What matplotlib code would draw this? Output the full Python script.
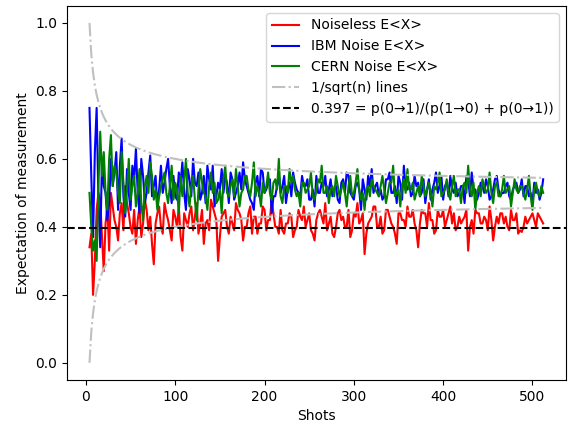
import numpy as np
import matplotlib
matplotlib.use("Agg")
import matplotlib.pyplot as plt

shots = list(range(4, 514, 2))

noiseless = [0.34, 0.38, 0.20, 0.30, 0.45, 0.50, 0.48, 0.37, 0.27, 0.41,
             0.46, 0.33, 0.50, 0.46, 0.42, 0.40, 0.36, 0.44, 0.47, 0.39,
             0.52, 0.47, 0.44, 0.40, 0.38, 0.45, 0.35, 0.42, 0.46, 0.37,
             0.41, 0.48, 0.45, 0.39, 0.43, 0.35, 0.29, 0.41, 0.44, 0.46,
             0.40, 0.38, 0.47, 0.44, 0.42, 0.39, 0.36, 0.45, 0.43, 0.40,
             0.46, 0.37, 0.33, 0.44, 0.42, 0.40, 0.44, 0.46, 0.39, 0.43,
             0.47, 0.38, 0.41, 0.45, 0.35, 0.41, 0.42, 0.39, 0.48, 0.46,
             0.44, 0.42, 0.30, 0.37, 0.43, 0.44, 0.45, 0.40, 0.38, 0.43,
             0.41, 0.39, 0.47, 0.45, 0.44, 0.42, 0.36, 0.40, 0.40, 0.44,
             0.46, 0.38, 0.43, 0.43, 0.38, 0.41, 0.41, 0.46, 0.45, 0.39,
             0.42, 0.42, 0.48, 0.44, 0.40, 0.40, 0.38, 0.45, 0.39, 0.38,
             0.41, 0.41, 0.44, 0.43, 0.37, 0.39, 0.40, 0.45, 0.43, 0.42,
             0.46, 0.40, 0.42, 0.44, 0.39, 0.38, 0.36, 0.42, 0.44, 0.45,
             0.43, 0.41, 0.47, 0.39, 0.41, 0.43, 0.38, 0.37, 0.40, 0.44,
             0.45, 0.42, 0.43, 0.40, 0.40, 0.45, 0.37, 0.39, 0.44, 0.43,
             0.47, 0.41, 0.42, 0.44, 0.32, 0.38, 0.41, 0.42, 0.43, 0.46,
             0.46, 0.40, 0.40, 0.43, 0.38, 0.39, 0.45, 0.45, 0.43, 0.41,
             0.40, 0.38, 0.35, 0.44, 0.44, 0.42, 0.42, 0.40, 0.46, 0.43,
             0.43, 0.45, 0.41, 0.39, 0.34, 0.41, 0.45, 0.44, 0.44, 0.40,
             0.47, 0.42, 0.42, 0.38, 0.39, 0.45, 0.43, 0.43, 0.45, 0.40,
             0.42, 0.44, 0.46, 0.41, 0.44, 0.39, 0.40, 0.43, 0.41, 0.42,
             0.43, 0.45, 0.33, 0.40, 0.42, 0.38, 0.45, 0.44, 0.44, 0.41,
             0.41, 0.43, 0.42, 0.39, 0.46, 0.42, 0.36, 0.40, 0.43, 0.41,
             0.44, 0.44, 0.41, 0.43, 0.40, 0.39, 0.45, 0.42, 0.42, 0.44,
             0.38, 0.39, 0.385, 0.40, 0.43, 0.41, 0.42, 0.43, 0.44, 0.42,
             0.40, 0.44, 0.43, 0.42, 0.41]

ibm = [0.75, 0.55, 0.37, 0.62, 0.75, 0.48, 0.34, 0.60, 0.52, 0.50,
       0.42, 0.47, 0.60, 0.52, 0.56, 0.62, 0.45, 0.58, 0.66, 0.49,
       0.43, 0.57, 0.50, 0.45, 0.58, 0.54, 0.63, 0.50, 0.44, 0.60,
       0.55, 0.47, 0.50, 0.56, 0.61, 0.49, 0.52, 0.55, 0.46, 0.51,
       0.58, 0.50, 0.53, 0.57, 0.60, 0.52, 0.47, 0.55, 0.49, 0.48,
       0.56, 0.53, 0.59, 0.50, 0.45, 0.57, 0.54, 0.49, 0.60, 0.53,
       0.52, 0.56, 0.48, 0.50, 0.55, 0.47, 0.58, 0.54, 0.51, 0.58,
       0.46, 0.49, 0.53, 0.51, 0.57, 0.50, 0.55, 0.53, 0.47, 0.56,
       0.54, 0.48, 0.50, 0.52, 0.56, 0.51, 0.59, 0.54, 0.52, 0.50,
       0.48, 0.47, 0.45, 0.53, 0.55, 0.49, 0.57, 0.56, 0.50, 0.51,
       0.53, 0.54, 0.44, 0.49, 0.49, 0.52, 0.55, 0.50, 0.52, 0.55,
       0.47, 0.51, 0.53, 0.49, 0.56, 0.53, 0.51, 0.50, 0.49, 0.55,
       0.52, 0.52, 0.54, 0.48, 0.48, 0.51, 0.46, 0.55, 0.50, 0.50,
       0.53, 0.52, 0.55, 0.49, 0.51, 0.54, 0.49, 0.51, 0.52, 0.48,
       0.47, 0.53, 0.54, 0.50, 0.56, 0.55, 0.50, 0.49, 0.48, 0.52,
       0.53, 0.51, 0.45, 0.54, 0.51, 0.48, 0.55, 0.52, 0.57, 0.50,
       0.52, 0.53, 0.49, 0.51, 0.48, 0.49, 0.54, 0.54, 0.56, 0.50,
       0.50, 0.52, 0.47, 0.55, 0.53, 0.48, 0.58, 0.51, 0.51, 0.53,
       0.49, 0.50, 0.55, 0.52, 0.53, 0.49, 0.50, 0.54, 0.47, 0.51,
       0.54, 0.48, 0.51, 0.53, 0.56, 0.50, 0.52, 0.55, 0.48, 0.52,
       0.53, 0.49, 0.55, 0.51, 0.50, 0.53, 0.49, 0.50, 0.52, 0.52,
       0.47, 0.55, 0.54, 0.49, 0.56, 0.51, 0.51, 0.48, 0.50, 0.53,
       0.52, 0.50, 0.54, 0.52, 0.48, 0.49, 0.51, 0.54, 0.55, 0.51,
       0.49, 0.50, 0.50, 0.52, 0.53, 0.49, 0.48, 0.51, 0.52, 0.53,
       0.50, 0.51, 0.54, 0.49, 0.52, 0.52, 0.49, 0.50, 0.47, 0.53,
       0.50, 0.51, 0.48, 0.50, 0.54]

cern = [0.50, 0.40, 0.33, 0.36, 0.30, 0.52, 0.68, 0.55, 0.62, 0.50,
        0.45, 0.60, 0.67, 0.52, 0.58, 0.56, 0.50, 0.47, 0.62, 0.53,
        0.44, 0.51, 0.60, 0.48, 0.52, 0.55, 0.46, 0.50, 0.57, 0.47,
        0.42, 0.52, 0.55, 0.50, 0.59, 0.55, 0.48, 0.51, 0.45, 0.49,
        0.52, 0.54, 0.56, 0.50, 0.47, 0.52, 0.58, 0.48, 0.53, 0.51,
        0.44, 0.55, 0.49, 0.53, 0.60, 0.50, 0.46, 0.52, 0.55, 0.48,
        0.42, 0.51, 0.57, 0.53, 0.50, 0.49, 0.45, 0.52, 0.56, 0.50,
        0.53, 0.47, 0.48, 0.51, 0.44, 0.54, 0.58, 0.50, 0.49, 0.52,
        0.54, 0.49, 0.57, 0.52, 0.46, 0.50, 0.51, 0.55, 0.55, 0.51,
        0.49, 0.53, 0.59, 0.49, 0.52, 0.50, 0.46, 0.53, 0.50, 0.52,
        0.56, 0.50, 0.48, 0.53, 0.54, 0.51, 0.60, 0.49, 0.47, 0.52,
        0.52, 0.50, 0.57, 0.53, 0.55, 0.51, 0.49, 0.50, 0.46, 0.53,
        0.53, 0.50, 0.51, 0.52, 0.56, 0.49, 0.48, 0.51, 0.54, 0.53,
        0.58, 0.50, 0.50, 0.52, 0.47, 0.51, 0.52, 0.49, 0.55, 0.52,
        0.49, 0.51, 0.53, 0.50, 0.46, 0.52, 0.55, 0.49, 0.50, 0.53,
        0.57, 0.51, 0.48, 0.50, 0.45, 0.51, 0.52, 0.49, 0.54, 0.52,
        0.51, 0.50, 0.49, 0.52, 0.55, 0.51, 0.47, 0.50, 0.53, 0.53,
        0.58, 0.49, 0.50, 0.51, 0.46, 0.52, 0.54, 0.50, 0.57, 0.51,
        0.51, 0.53, 0.48, 0.50, 0.52, 0.49, 0.55, 0.52, 0.49, 0.51,
        0.53, 0.50, 0.46, 0.52, 0.51, 0.53, 0.56, 0.49, 0.50, 0.51,
        0.54, 0.50, 0.48, 0.52, 0.55, 0.49, 0.51, 0.51, 0.47, 0.52,
        0.53, 0.50, 0.58, 0.51, 0.49, 0.53, 0.45, 0.50, 0.52, 0.49,
        0.54, 0.52, 0.50, 0.51, 0.56, 0.50, 0.47, 0.52, 0.53, 0.49,
        0.49, 0.51, 0.55, 0.50, 0.51, 0.52, 0.46, 0.50, 0.54, 0.51,
        0.50, 0.52, 0.52, 0.50, 0.48, 0.51, 0.55, 0.49, 0.45, 0.51,
        0.53, 0.50, 0.49, 0.52, 0.50]

ratio = 0.397

# bounds drawn as 0.5 +/- 1/sqrt(n)
n = np.array(shots)
upper = 0.5 + 1 / np.sqrt(n)
lower = 0.5 - 1 / np.sqrt(n)

fig, ax = plt.subplots(figsize=(5.71, 4.23), dpi=100)
fig.subplots_adjust(left=0.117, right=0.991, top=0.986, bottom=0.102)

ax.plot(shots, noiseless, color='red', label='Noiseless E<X>')
ax.plot(shots, ibm, color='blue', label='IBM Noise E<X>')
ax.plot(shots, cern, color='green', label='CERN Noise E<X>')
ax.plot(shots, upper, color='silver', linestyle='-.', label='1/sqrt(n) lines')
ax.plot(shots, lower, color='silver', linestyle='-.')
ax.axhline(ratio, color='black', linestyle='--',
           label='0.397 = p(0→1)/(p(1→0) + p(0→1))')

ax.set_xlabel('Shots')
ax.set_ylabel('Expectation of measurement')
ax.legend(loc='upper right')

plt.savefig('out.png')
